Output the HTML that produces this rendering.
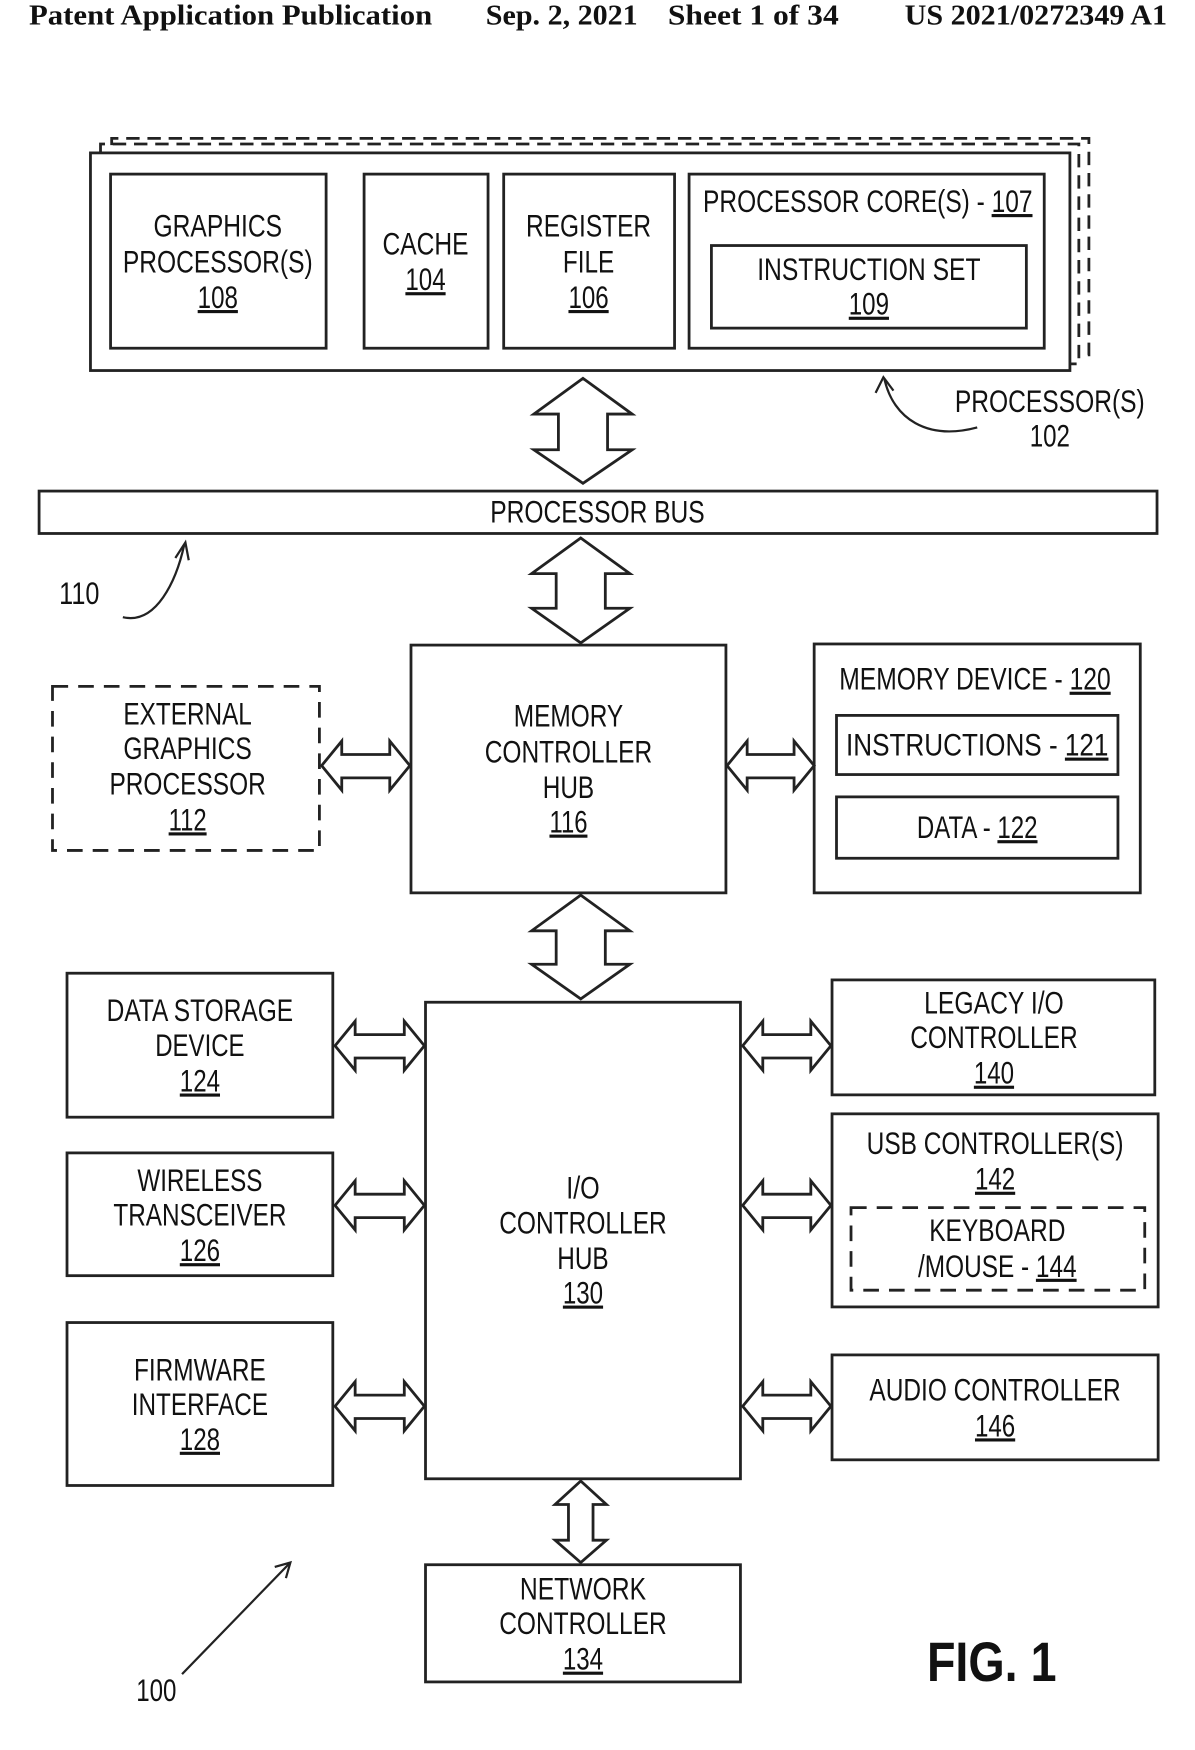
<!DOCTYPE html>
<html><head><meta charset="utf-8"><style>
html,body{margin:0;padding:0;background:#fff;}
svg{display:block}
text{font-family:"Liberation Sans",Arial,sans-serif;font-size:28px;fill:#111;text-anchor:middle}
.h{font-family:"Liberation Serif",serif;font-weight:bold;font-size:26px;text-anchor:start}
.u{text-decoration:underline}
</style></head><body>
<svg width="1195" height="1750" viewBox="0 0 1070 1568" preserveAspectRatio="none" xmlns="http://www.w3.org/2000/svg">
<g fill="none" stroke="#222" stroke-width="2.5">
<polyline points="100,130 100,124 975,124 975,318 967,318" stroke-dasharray="12,7"/>
<polyline points="90,137 90,129 966,129 966,326 958,326" stroke-dasharray="12,7"/>
<rect x="81" y="137" width="877" height="195" fill="#fff"/>
<rect x="99" y="156" width="193" height="156"/>
<rect x="326" y="156" width="111" height="156"/>
<rect x="451" y="156" width="153" height="156"/>
<rect x="617" y="156" width="318" height="156"/>
<rect x="637" y="220" width="282" height="74"/>
<rect x="35" y="440" width="1001" height="38"/>
<rect x="368" y="578" width="282" height="222"/>
<rect x="47" y="615" width="239" height="147" stroke-dasharray="14,9"/>
<rect x="729" y="577" width="292" height="223"/>
<rect x="749" y="641" width="252" height="53"/>
<rect x="749" y="714" width="252" height="55"/>
<rect x="381" y="898" width="282" height="427"/>
<rect x="60" y="872" width="238" height="129"/>
<rect x="60" y="1033" width="238" height="110"/>
<rect x="60" y="1185" width="238" height="146"/>
<rect x="745" y="878" width="289" height="103"/>
<rect x="745" y="998" width="292" height="173"/>
<rect x="762" y="1082" width="263" height="74" stroke-dasharray="14,9"/>
<rect x="745" y="1214" width="292" height="94"/>
<rect x="381" y="1402" width="282" height="105"/>
<polygon points="522,339 566,371 544,371 544,403 566,403 522,433 478,403 500,403 500,371 478,371"/>
<polygon points="520,482 564,514 542,514 542,545 564,545 520,576 476,545 498,545 498,514 476,514"/>
<polygon points="520,802 564,834 542,834 542,864 564,864 520,895 476,864 498,864 498,834 476,834"/>
<polygon points="520,1327 543,1348 531,1348 531,1380 543,1380 520,1400 497,1380 509,1380 509,1348 497,1348"/>
<polygon points="288,686 306,664 306,676 349,676 349,664 367,686 349,708 349,697 306,697 306,708"/>
<polygon points="651,686 669,664 669,676 711,676 711,664 729,686 711,708 711,697 669,697 669,708"/>
<polygon points="300,937 318,915 318,927 362,927 362,915 380,937 362,959 362,948 318,948 318,959"/>
<polygon points="300,1080 318,1058 318,1070 362,1070 362,1058 380,1080 362,1102 362,1091 318,1091 318,1102"/>
<polygon points="300,1260 318,1238 318,1250 362,1250 362,1238 380,1260 362,1282 362,1271 318,1271 318,1282"/>
<polygon points="665,937 683,915 683,927 726,927 726,915 744,937 726,959 726,948 683,948 683,959"/>
<polygon points="665,1080 683,1058 683,1070 726,1070 726,1058 744,1080 726,1102 726,1091 683,1091 683,1102"/>
<polygon points="665,1260 683,1238 683,1250 726,1250 726,1238 744,1260 726,1282 726,1271 683,1271 683,1282"/>
<path d="M875,383 C830,395 800,375 792,340" stroke-width="2"/>
<path d="M784,352 L791,338 L800,350" stroke-width="2"/>
<path d="M110,553 C140,560 158,520 165,488" stroke-width="2"/>
<path d="M157,500 L166,486 L169,502" stroke-width="2"/>
<path d="M163,1500 L259,1401" stroke-width="2"/>
<path d="M246,1404 L260,1400 L256,1414" stroke-width="2"/>
</g>
<text class="h" x="26" y="22" textLength="361" lengthAdjust="spacingAndGlyphs">Patent Application Publication</text>
<text class="h" x="435" y="22" textLength="136" lengthAdjust="spacingAndGlyphs">Sep. 2, 2021</text>
<text class="h" x="598" y="22" textLength="153" lengthAdjust="spacingAndGlyphs">Sheet 1 of 34</text>
<text class="h" x="810" y="22" textLength="235" lengthAdjust="spacingAndGlyphs">US 2021/0272349 A1</text>

<text x="195" y="212" textLength="115" lengthAdjust="spacingAndGlyphs">GRAPHICS</text>
<text x="195" y="244" textLength="170" lengthAdjust="spacingAndGlyphs">PROCESSOR(S)</text>
<text x="195" y="276" class="u" textLength="36" lengthAdjust="spacingAndGlyphs">108</text>
<text x="381" y="228" textLength="77" lengthAdjust="spacingAndGlyphs">CACHE</text>
<text x="381" y="260" class="u" textLength="36" lengthAdjust="spacingAndGlyphs">104</text>
<text x="527" y="212" textLength="112" lengthAdjust="spacingAndGlyphs">REGISTER</text>
<text x="527" y="244" textLength="46" lengthAdjust="spacingAndGlyphs">FILE</text>
<text x="527" y="276" class="u" textLength="36" lengthAdjust="spacingAndGlyphs">106</text>
<text x="777" y="190" textLength="295" lengthAdjust="spacingAndGlyphs">PROCESSOR CORE(S) - <tspan class="u">107</tspan></text>
<text x="778" y="251" textLength="200" lengthAdjust="spacingAndGlyphs">INSTRUCTION SET</text>
<text x="778" y="282" class="u" textLength="36" lengthAdjust="spacingAndGlyphs">109</text>
<text x="940" y="369" textLength="170" lengthAdjust="spacingAndGlyphs">PROCESSOR(S)</text>
<text x="940" y="400" textLength="36" lengthAdjust="spacingAndGlyphs">102</text>
<text x="535" y="468" textLength="192" lengthAdjust="spacingAndGlyphs">PROCESSOR BUS</text>
<text x="71" y="541" textLength="36" lengthAdjust="spacingAndGlyphs">110</text>
<text x="168" y="649" textLength="115" lengthAdjust="spacingAndGlyphs">EXTERNAL</text>
<text x="168" y="680" textLength="115" lengthAdjust="spacingAndGlyphs">GRAPHICS</text>
<text x="168" y="712" textLength="140" lengthAdjust="spacingAndGlyphs">PROCESSOR</text>
<text x="168" y="744" class="u" textLength="34" lengthAdjust="spacingAndGlyphs">112</text>
<text x="509" y="651" textLength="98" lengthAdjust="spacingAndGlyphs">MEMORY</text>
<text x="509" y="683" textLength="150" lengthAdjust="spacingAndGlyphs">CONTROLLER</text>
<text x="509" y="715" textLength="46" lengthAdjust="spacingAndGlyphs">HUB</text>
<text x="509" y="746" class="u" textLength="34" lengthAdjust="spacingAndGlyphs">116</text>
<text x="873" y="618" textLength="243" lengthAdjust="spacingAndGlyphs">MEMORY DEVICE - <tspan class="u">120</tspan></text>
<text x="875" y="677" textLength="235" lengthAdjust="spacingAndGlyphs">INSTRUCTIONS - <tspan class="u">121</tspan></text>
<text x="875" y="751" textLength="108" lengthAdjust="spacingAndGlyphs">DATA - <tspan class="u">122</tspan></text>
<text x="179" y="915" textLength="167" lengthAdjust="spacingAndGlyphs">DATA STORAGE</text>
<text x="179" y="946" textLength="80" lengthAdjust="spacingAndGlyphs">DEVICE</text>
<text x="179" y="978" class="u" textLength="36" lengthAdjust="spacingAndGlyphs">124</text>
<text x="179" y="1067" textLength="112" lengthAdjust="spacingAndGlyphs">WIRELESS</text>
<text x="179" y="1098" textLength="155" lengthAdjust="spacingAndGlyphs">TRANSCEIVER</text>
<text x="179" y="1130" class="u" textLength="36" lengthAdjust="spacingAndGlyphs">126</text>
<text x="179" y="1237" textLength="118" lengthAdjust="spacingAndGlyphs">FIRMWARE</text>
<text x="179" y="1268" textLength="122" lengthAdjust="spacingAndGlyphs">INTERFACE</text>
<text x="179" y="1299" class="u" textLength="36" lengthAdjust="spacingAndGlyphs">128</text>
<text x="522" y="1074" textLength="30" lengthAdjust="spacingAndGlyphs">I/O</text>
<text x="522" y="1105" textLength="150" lengthAdjust="spacingAndGlyphs">CONTROLLER</text>
<text x="522" y="1137" textLength="46" lengthAdjust="spacingAndGlyphs">HUB</text>
<text x="522" y="1168" class="u" textLength="36" lengthAdjust="spacingAndGlyphs">130</text>
<text x="890" y="908" textLength="125" lengthAdjust="spacingAndGlyphs">LEGACY I/O</text>
<text x="890" y="939" textLength="150" lengthAdjust="spacingAndGlyphs">CONTROLLER</text>
<text x="890" y="971" class="u" textLength="36" lengthAdjust="spacingAndGlyphs">140</text>
<text x="891" y="1034" textLength="230" lengthAdjust="spacingAndGlyphs">USB CONTROLLER(S)</text>
<text x="891" y="1066" class="u" textLength="36" lengthAdjust="spacingAndGlyphs">142</text>
<text x="893" y="1112" textLength="122" lengthAdjust="spacingAndGlyphs">KEYBOARD</text>
<text x="893" y="1144" textLength="142" lengthAdjust="spacingAndGlyphs">/MOUSE - <tspan class="u">144</tspan></text>
<text x="891" y="1255" textLength="225" lengthAdjust="spacingAndGlyphs">AUDIO CONTROLLER</text>
<text x="891" y="1287" class="u" textLength="36" lengthAdjust="spacingAndGlyphs">146</text>
<text x="522" y="1433" textLength="113" lengthAdjust="spacingAndGlyphs">NETWORK</text>
<text x="522" y="1464" textLength="150" lengthAdjust="spacingAndGlyphs">CONTROLLER</text>
<text x="522" y="1496" class="u" textLength="36" lengthAdjust="spacingAndGlyphs">134</text>
<text x="140" y="1524" textLength="36" lengthAdjust="spacingAndGlyphs">100</text>
<text x="888" y="1506" style="font-size:50px;font-weight:bold" textLength="116" lengthAdjust="spacingAndGlyphs">FIG. 1</text>
</svg>
</body></html>
